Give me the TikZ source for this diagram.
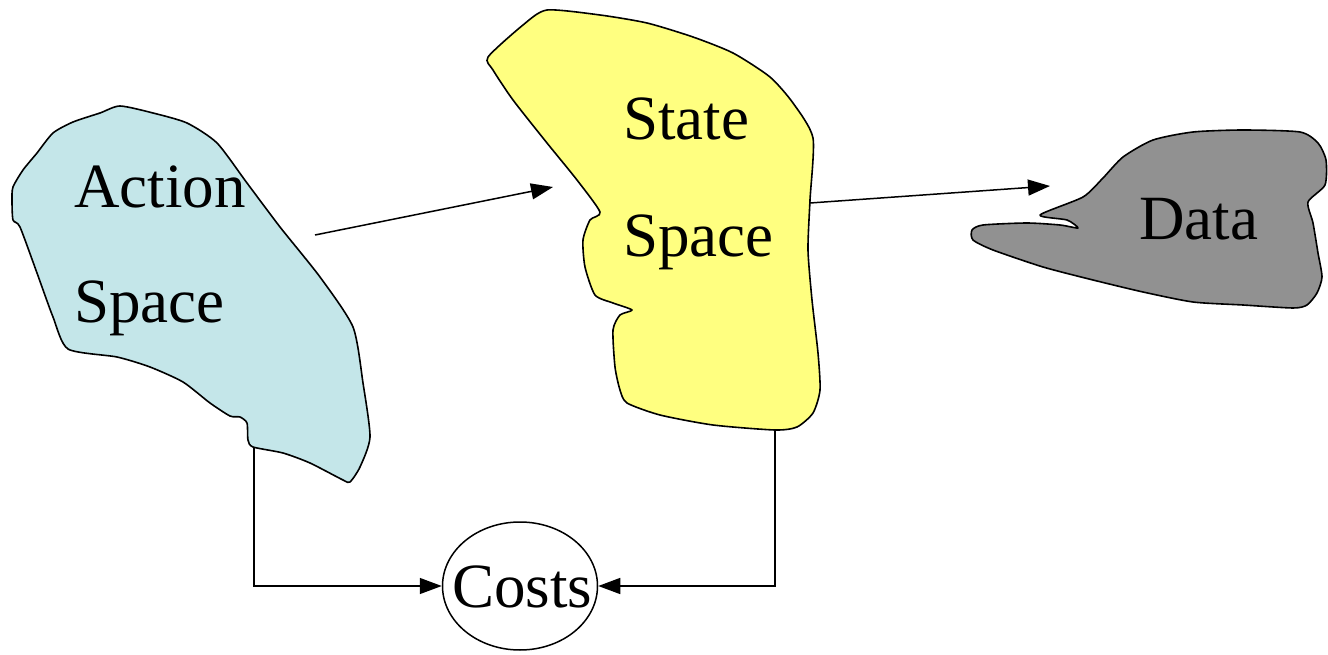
\documentclass[tikz,border=0pt]{standalone}
\usepackage{fontspec}
\setmainfont{Liberation Serif}
\newfontfamily\tnr{Liberation Serif}
\usetikzlibrary{arrows.meta,shapes.geometric}
\definecolor{actfill}{HTML}{C4E6E9}
\definecolor{statefill}{HTML}{FFFF80}
\definecolor{datafill}{HTML}{919191}
\tikzset{
  blob/.style={draw=black, line width=1.6pt, line join=round},
  lbl/.style={font=\tnr\fontsize{63}{70}\selectfont, inner sep=0pt, anchor=base west},
  conn/.style={draw=black, line width=1.5pt, -{Triangle[length=22pt,width=16pt]}},
}
\begin{document}
\begin{tikzpicture}[x=1pt,y=-1pt]
\useasboundingbox (0,0) rectangle (1328,655);
% Action space blob
\draw[blob, fill=actfill] plot[smooth cycle, tension=0.4] coordinates {
 (120,106) (153,113) (187,123) (217,143) (247,183) (280,227) (320,277) (353,327)
 (363,383) (370,437) (360,467) (350,482) (343,480) (310,463) (283,453) (253,447)
 (248,440) (247,423) (240,417) (230,416) (210,403) (183,382) (150,367) (117,357)
 (68,349) (53,317) (37,273) (20,227) (13,220) (12,200) (13,187) (23,170) (37,153)
 (53,133) (73,122) (100,113)};
% State space blob
\draw[blob, fill=statefill] plot[smooth cycle, tension=0.4] coordinates {
 (547,10) (523,25) (488,57) (493,70) (513,100) (547,143) (577,180) (600,212)
 (590,220) (583,240) (585,267) (595,295) (613,303) (632,310) (620,315) (613,330)
 (615,367) (620,390) (627,403) (660,415) (713,425) (775,430) (797,427) (813,413)
 (820,390) (818,353) (812,300) (808,250) (810,200) (813,138) (793,103) (770,77)
 (733,53) (693,37) (647,23) (600,15)};
% Data blob
\draw[blob, fill=datafill] plot[smooth cycle, tension=0.4] coordinates {
 (1040,215) (1083,197) (1103,178) (1123,157) (1153,140) (1193,132) (1243,130)
 (1300,132) (1318,143) (1326,160) (1325,185) (1308,202) (1313,223) (1318,253)
 (1322,277) (1317,293) (1307,305) (1293,308) (1243,305) (1193,302) (1143,292)
 (1093,280) (1043,267) (993,250) (973,240) (972,230) (983,225) (1027,223)
 (1060,225) (1078,228) (1067,220)};
% labels
\node[lbl] (act1) at (74,208) {Action};
\node[lbl] (act2) at (74,322) {Space};
\node[lbl] (st1) at (623,140) {State};
\node[lbl] (st2) at (623,257) {Space};
\node[lbl] (data) at (1139,240) {Data};
\node[draw=black, line width=1.5pt, ellipse, minimum width=155pt, minimum height=128pt,
      inner sep=0pt] (costs) at (520,586) {};
\node[lbl] (costslbl) at (452,607) {Costs};
% connector end points
\coordinate (aout) at (315,235);
\coordinate (sin) at (553,187);
\coordinate (sout) at (810,203);
\coordinate (din) at (1050,186);
\coordinate (abot) at (254,447);
\coordinate (sbot) at (775,430);
% connectors
\draw[conn] (aout) -- (sin);
\draw[conn] (sout) -- (din);
\draw[conn] (abot) |- (costs.west);
\draw[conn] (sbot) |- (costs.east);
\end{tikzpicture}
\end{document}
